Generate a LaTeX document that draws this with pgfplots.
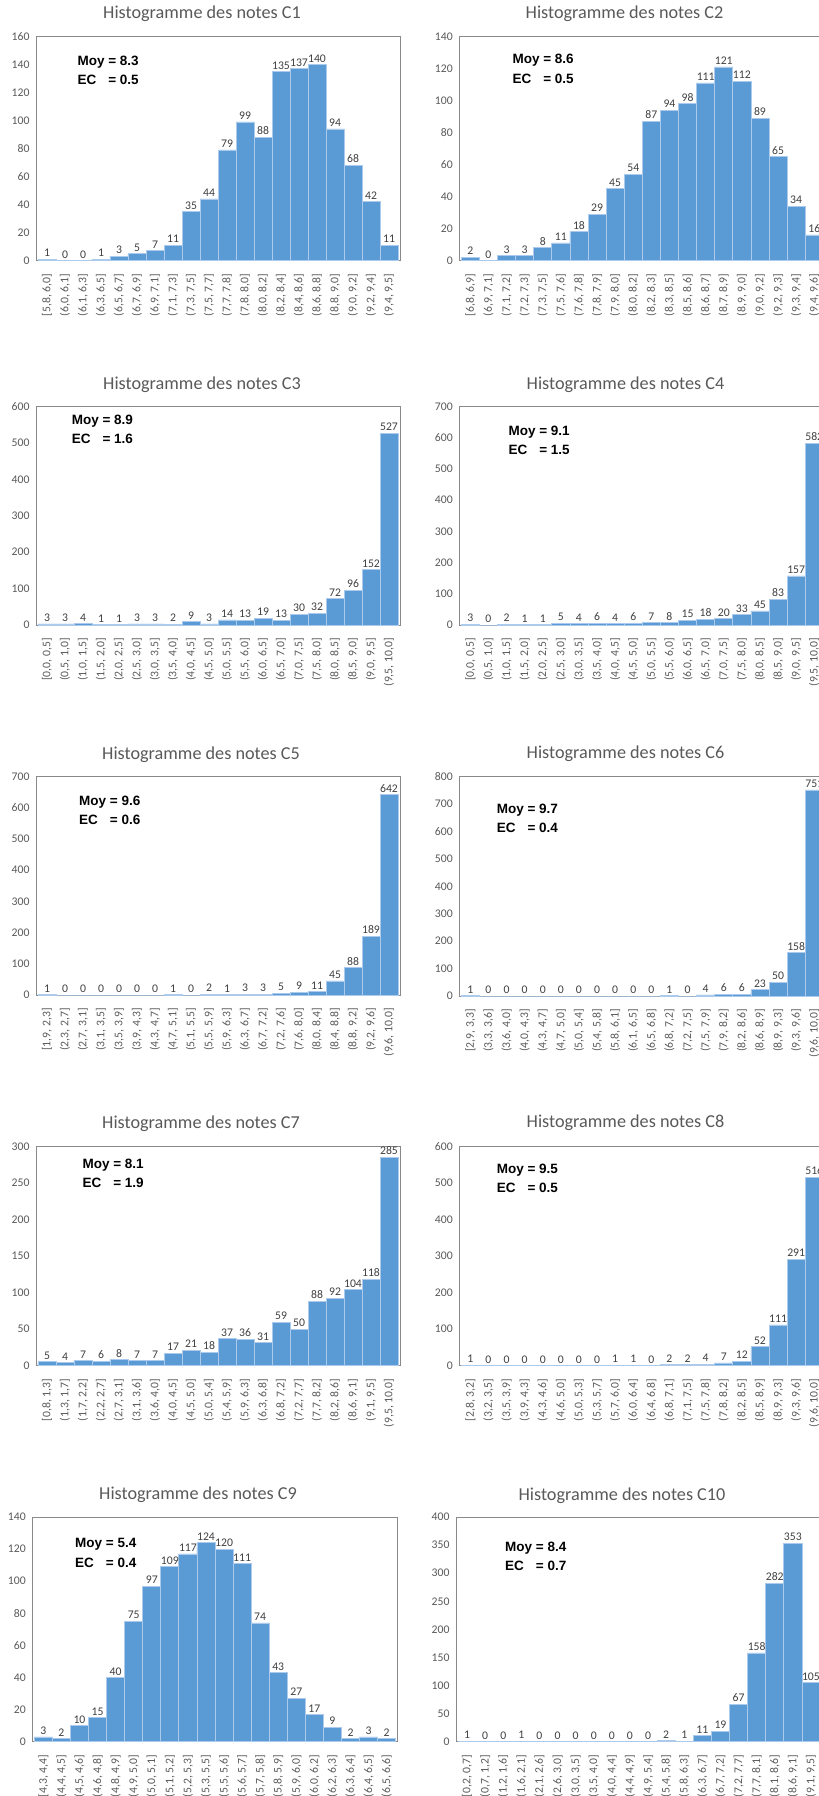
\documentclass[border=0pt]{standalone}
\usepackage{fontspec}
\setmainfont{Carlito}
\newfontfamily\arialfont{Liberation Sans}
\usepackage{pgfplots}
\pgfplotsset{compat=1.18}
\definecolor{barblue}{RGB}{91,155,213}
\definecolor{barline}{RGB}{172,202,235}
\definecolor{boxgray}{RGB}{137,137,137}
\definecolor{tickgray}{RGB}{89,89,89}
\definecolor{labgray}{RGB}{64,64,64}
\newcommand\ticks{\fontsize{11.7}{13}\selectfont}
\newcommand\ttl{\fontsize{18.2}{20}\selectfont}
\newcommand\moy{\arialfont\bfseries\fontsize{13.5}{15}\selectfont}
\pgfplotsset{
  hist/.style={
    scale only axis,
    anchor=north west,
    ymin=0,
    xmin=-0.611, xmax=19.611,
    axis line style={draw=boxgray, line width=1pt},
    tick style={draw=none},
    xtick={0,...,19},
    /pgf/number format/assume math mode=true,
    xticklabel style={rotate=90, anchor=east, font=\ticks, text=tickgray},
    xticklabel shift=5.5pt,
    yticklabel style={font=\ticks, text=tickgray},
    yticklabel shift=3pt,
    ybar, bar width=1, bar shift=0pt,
    nodes near coords,
    nodes near coords style={font=\ticks, text=labgray, inner sep=2pt},
    clip=false,
  },
  hbar/.style={fill=barblue, draw=barline, line width=0.8pt},
}
\newcommand\mt[2]{\node[font=\moy, anchor=base west] at (#1pt,-#2pt) {\makebox[2.278em][l]{Moy}= };}
\begin{document}
\begin{tikzpicture}
\useasboundingbox (0pt,0pt) rectangle (819pt,-1796pt);
\clip (0pt,0pt) rectangle (819pt,-1796pt);

% ---------- C1 ----------
\begin{axis}[hist, at={(36pt,-36.5pt)}, width=364pt, height=224pt, ymax=160, ytick distance=20,
  xticklabels={{[5,8, 6,0]},{(6,0, 6,1]},{(6,1, 6,3]},{(6,3, 6,5]},{(6,5, 6,7]},{(6,7, 6,9]},{(6,9, 7,1]},{(7,1, 7,3]},{(7,3, 7,5]},{(7,5, 7,7]},{(7,7, 7,8]},{(7,8, 8,0]},{(8,0, 8,2]},{(8,2, 8,4]},{(8,4, 8,6]},{(8,6, 8,8]},{(8,8, 9,0]},{(9,0, 9,2]},{(9,2, 9,4]},{(9,4, 9,5]}}]
\addplot[hbar] coordinates {(0,1) (1,0) (2,0) (3,1) (4,3) (5,5) (6,7) (7,11) (8,35) (9,44) (10,79) (11,99) (12,88) (13,135) (14,137) (15,140) (16,94) (17,68) (18,42) (19,11)};
\end{axis}
\node[font=\ttl, text=tickgray] at (202pt,-14pt) {Histogramme des notes C1};
\node[font=\moy, anchor=base west] at (74pt,-65.3pt) {\makebox[2.278em][l]{Moy}= 8.3};
\node[font=\moy, anchor=base west] at (74pt,-84.3pt) {\makebox[2.278em][l]{EC}= 0.5};

% ---------- C2 ----------
\begin{axis}[hist, at={(459.3pt,-36.5pt)}, width=366pt, height=224pt, ymax=140, ytick distance=20,
  xticklabels={{[6,8, 6,9]},{(6,9, 7,1]},{(7,1, 7,2]},{(7,2, 7,3]},{(7,3, 7,5]},{(7,5, 7,6]},{(7,6, 7,8]},{(7,8, 7,9]},{(7,9, 8,0]},{(8,0, 8,2]},{(8,2, 8,3]},{(8,3, 8,5]},{(8,5, 8,6]},{(8,6, 8,7]},{(8,7, 8,9]},{(8,9, 9,0]},{(9,0, 9,2]},{(9,2, 9,3]},{(9,3, 9,4]},{(9,4, 9,6]}}]
\addplot[hbar] coordinates {(0,2) (1,0) (2,3) (3,3) (4,8) (5,11) (6,18) (7,29) (8,45) (9,54) (10,87) (11,94) (12,98) (13,111) (14,121) (15,112) (16,89) (17,65) (18,34) (19,16)};
\end{axis}
\node[font=\ttl, text=tickgray] at (624.5pt,-14pt) {Histogramme des notes C2};
\node[font=\moy, anchor=base west] at (509pt,-63.3pt) {\makebox[2.278em][l]{Moy}= 8.6};
\node[font=\moy, anchor=base west] at (509pt,-83.3pt) {\makebox[2.278em][l]{EC}= 0.5};

% ---------- C3 ----------
\begin{axis}[hist, at={(36pt,-406.5pt)}, width=364pt, height=218.5pt, ymax=600, ytick distance=100,
  xticklabels={{[0,0, 0,5]},{(0,5, 1,0]},{(1,0, 1,5]},{(1,5, 2,0]},{(2,0, 2,5]},{(2,5, 3,0]},{(3,0, 3,5]},{(3,5, 4,0]},{(4,0, 4,5]},{(4,5, 5,0]},{(5,0, 5,5]},{(5,5, 6,0]},{(6,0, 6,5]},{(6,5, 7,0]},{(7,0, 7,5]},{(7,5, 8,0]},{(8,0, 8,5]},{(8,5, 9,0]},{(9,0, 9,5]},{(9,5, 10,0]}}]
\addplot[hbar] coordinates {(0,3) (1,3) (2,4) (3,1) (4,1) (5,3) (6,3) (7,2) (8,9) (9,3) (10,14) (11,13) (12,19) (13,13) (14,30) (15,32) (16,72) (17,96) (18,152) (19,527)};
\end{axis}
\node[font=\ttl, text=tickgray] at (202pt,-385pt) {Histogramme des notes C3};
\node[font=\moy, anchor=base west] at (68.3pt,-424pt) {\makebox[2.278em][l]{Moy}= 8.9};
\node[font=\moy, anchor=base west] at (68.3pt,-443.3pt) {\makebox[2.278em][l]{EC}= 1.6};

% ---------- C4 ----------
\begin{axis}[hist, at={(459.3pt,-406.5pt)}, width=366pt, height=218.5pt, ymax=700, ytick distance=100,
  xticklabels={{[0,0, 0,5]},{(0,5, 1,0]},{(1,0, 1,5]},{(1,5, 2,0]},{(2,0, 2,5]},{(2,5, 3,0]},{(3,0, 3,5]},{(3,5, 4,0]},{(4,0, 4,5]},{(4,5, 5,0]},{(5,0, 5,5]},{(5,5, 6,0]},{(6,0, 6,5]},{(6,5, 7,0]},{(7,0, 7,5]},{(7,5, 8,0]},{(8,0, 8,5]},{(8,5, 9,0]},{(9,0, 9,5]},{(9,5, 10,0]}}]
\addplot[hbar] coordinates {(0,3) (1,0) (2,2) (3,1) (4,1) (5,5) (6,4) (7,6) (8,4) (9,6) (10,7) (11,8) (12,15) (13,18) (14,20) (15,33) (16,45) (17,83) (18,157) (19,582)};
\end{axis}
\node[font=\ttl, text=tickgray] at (625.5pt,-385pt) {Histogramme des notes C4};
\node[font=\moy, anchor=base west] at (505pt,-435pt) {\makebox[2.278em][l]{Moy}= 9.1};
\node[font=\moy, anchor=base west] at (505pt,-454.3pt) {\makebox[2.278em][l]{EC}= 1.5};

% ---------- C5 ----------
\begin{axis}[hist, at={(36pt,-776.5pt)}, width=364pt, height=218.5pt, ymax=700, ytick distance=100,
  xticklabels={{[1,9, 2,3]},{(2,3, 2,7]},{(2,7, 3,1]},{(3,1, 3,5]},{(3,5, 3,9]},{(3,9, 4,3]},{(4,3, 4,7]},{(4,7, 5,1]},{(5,1, 5,5]},{(5,5, 5,9]},{(5,9, 6,3]},{(6,3, 6,7]},{(6,7, 7,2]},{(7,2, 7,6]},{(7,6, 8,0]},{(8,0, 8,4]},{(8,4, 8,8]},{(8,8, 9,2]},{(9,2, 9,6]},{(9,6, 10,0]}}]
\addplot[hbar] coordinates {(0,1) (1,0) (2,0) (3,0) (4,0) (5,0) (6,0) (7,1) (8,0) (9,2) (10,1) (11,3) (12,3) (13,5) (14,9) (15,11) (16,45) (17,88) (18,189) (19,642)};
\end{axis}
\node[font=\ttl, text=tickgray] at (201pt,-754.3pt) {Histogramme des notes C5};
\node[font=\moy, anchor=base west] at (75.7pt,-805pt) {\makebox[2.278em][l]{Moy}= 9.6};
\node[font=\moy, anchor=base west] at (75.7pt,-824pt) {\makebox[2.278em][l]{EC}= 0.6};

% ---------- C6 ----------
\begin{axis}[hist, at={(459.3pt,-776.5pt)}, width=366pt, height=219.5pt, ymax=800, ytick distance=100,
  xticklabels={{[2,9, 3,3]},{(3,3, 3,6]},{(3,6, 4,0]},{(4,0, 4,3]},{(4,3, 4,7]},{(4,7, 5,0]},{(5,0, 5,4]},{(5,4, 5,8]},{(5,8, 6,1]},{(6,1, 6,5]},{(6,5, 6,8]},{(6,8, 7,2]},{(7,2, 7,5]},{(7,5, 7,9]},{(7,9, 8,2]},{(8,2, 8,6]},{(8,6, 8,9]},{(8,9, 9,3]},{(9,3, 9,6]},{(9,6, 10,0]}}]
\addplot[hbar] coordinates {(0,1) (1,0) (2,0) (3,0) (4,0) (5,0) (6,0) (7,0) (8,0) (9,0) (10,0) (11,1) (12,0) (13,4) (14,6) (15,6) (16,23) (17,50) (18,158) (19,751)};
\end{axis}
\node[font=\ttl, text=tickgray] at (625.5pt,-754pt) {Histogramme des notes C6};
\node[font=\moy, anchor=base west] at (493.3pt,-813.3pt) {\makebox[2.278em][l]{Moy}= 9.7};
\node[font=\moy, anchor=base west] at (493.3pt,-832.7pt) {\makebox[2.278em][l]{EC}= 0.4};

% ---------- C7 ----------
\begin{axis}[hist, at={(36pt,-1146.5pt)}, width=364pt, height=219pt, ymax=300, ytick distance=50,
  xticklabels={{[0,8, 1,3]},{(1,3, 1,7]},{(1,7, 2,2]},{(2,2, 2,7]},{(2,7, 3,1]},{(3,1, 3,6]},{(3,6, 4,0]},{(4,0, 4,5]},{(4,5, 5,0]},{(5,0, 5,4]},{(5,4, 5,9]},{(5,9, 6,3]},{(6,3, 6,8]},{(6,8, 7,2]},{(7,2, 7,7]},{(7,7, 8,2]},{(8,2, 8,6]},{(8,6, 9,1]},{(9,1, 9,5]},{(9,5, 10,0]}}]
\addplot[hbar] coordinates {(0,5) (1,4) (2,7) (3,6) (4,8) (5,7) (6,7) (7,17) (8,21) (9,18) (10,37) (11,36) (12,31) (13,59) (14,50) (15,88) (16,92) (17,104) (18,118) (19,285)};
\end{axis}
\node[font=\ttl, text=tickgray] at (201pt,-1123.3pt) {Histogramme des notes C7};
\node[font=\moy, anchor=base west] at (79pt,-1168.3pt) {\makebox[2.278em][l]{Moy}= 8.1};
\node[font=\moy, anchor=base west] at (79pt,-1187.3pt) {\makebox[2.278em][l]{EC}= 1.9};

% ---------- C8 ----------
\begin{axis}[hist, at={(459.3pt,-1146.5pt)}, width=366pt, height=219pt, ymax=600, ytick distance=100,
  xticklabels={{[2,8, 3,2]},{(3,2, 3,5]},{(3,5, 3,9]},{(3,9, 4,3]},{(4,3, 4,6]},{(4,6, 5,0]},{(5,0, 5,3]},{(5,3, 5,7]},{(5,7, 6,0]},{(6,0, 6,4]},{(6,4, 6,8]},{(6,8, 7,1]},{(7,1, 7,5]},{(7,5, 7,8]},{(7,8, 8,2]},{(8,2, 8,5]},{(8,5, 8,9]},{(8,9, 9,3]},{(9,3, 9,6]},{(9,6, 10,0]}}]
\addplot[hbar] coordinates {(0,1) (1,0) (2,0) (3,0) (4,0) (5,0) (6,0) (7,0) (8,1) (9,1) (10,0) (11,2) (12,2) (13,4) (14,7) (15,12) (16,52) (17,111) (18,291) (19,516)};
\end{axis}
\node[font=\ttl, text=tickgray] at (625.5pt,-1123pt) {Histogramme des notes C8};
\node[font=\moy, anchor=base west] at (493.3pt,-1173.3pt) {\makebox[2.278em][l]{Moy}= 9.5};
\node[font=\moy, anchor=base west] at (493.3pt,-1192.7pt) {\makebox[2.278em][l]{EC}= 0.5};

% ---------- C9 ----------
\begin{axis}[hist, at={(32.3pt,-1517pt)}, width=365.4pt, height=224.7pt, ymax=140, ytick distance=20,
  xticklabels={{[4,3, 4,4]},{(4,4, 4,5]},{(4,5, 4,6]},{(4,6, 4,8]},{(4,8, 4,9]},{(4,9, 5,0]},{(5,0, 5,1]},{(5,1, 5,2]},{(5,2, 5,3]},{(5,3, 5,5]},{(5,5, 5,6]},{(5,6, 5,7]},{(5,7, 5,8]},{(5,8, 5,9]},{(5,9, 6,0]},{(6,0, 6,2]},{(6,2, 6,3]},{(6,3, 6,4]},{(6,4, 6,5]},{(6,5, 6,6]}}]
\addplot[hbar] coordinates {(0,3) (1,2) (2,10) (3,15) (4,40) (5,75) (6,97) (7,109) (8,117) (9,124) (10,120) (11,111) (12,74) (13,43) (14,27) (15,17) (16,9) (17,2) (18,3) (19,2)};
\end{axis}
\node[font=\ttl, text=tickgray] at (198pt,-1495pt) {Histogramme des notes C9};
\node[font=\moy, anchor=base west] at (71.7pt,-1547.3pt) {\makebox[2.278em][l]{Moy}= 5.4};
\node[font=\moy, anchor=base west] at (71.7pt,-1567.3pt) {\makebox[2.278em][l]{EC}= 0.4};

% ---------- C10 ----------
\begin{axis}[hist, at={(456pt,-1517pt)}, width=366pt, height=224.7pt, ymax=400, ytick distance=50,
  xticklabels={{[0,2, 0,7]},{(0,7, 1,2]},{(1,2, 1,6]},{(1,6, 2,1]},{(2,1, 2,6]},{(2,6, 3,0]},{(3,0, 3,5]},{(3,5, 4,0]},{(4,0, 4,4]},{(4,4, 4,9]},{(4,9, 5,4]},{(5,4, 5,8]},{(5,8, 6,3]},{(6,3, 6,7]},{(6,7, 7,2]},{(7,2, 7,7]},{(7,7, 8,1]},{(8,1, 8,6]},{(8,6, 9,1]},{(9,1, 9,5]}}]
\addplot[hbar] coordinates {(0,1) (1,0) (2,0) (3,1) (4,0) (5,0) (6,0) (7,0) (8,0) (9,0) (10,0) (11,2) (12,1) (13,11) (14,19) (15,67) (16,158) (17,282) (18,353) (19,105)};
\end{axis}
\node[font=\ttl, text=tickgray] at (622pt,-1496pt) {Histogramme des notes C10};
\node[font=\moy, anchor=base west] at (501.7pt,-1551pt) {\makebox[2.278em][l]{Moy}= 8.4};
\node[font=\moy, anchor=base west] at (501.7pt,-1570pt) {\makebox[2.278em][l]{EC}= 0.7};
\end{tikzpicture}
\end{document}
